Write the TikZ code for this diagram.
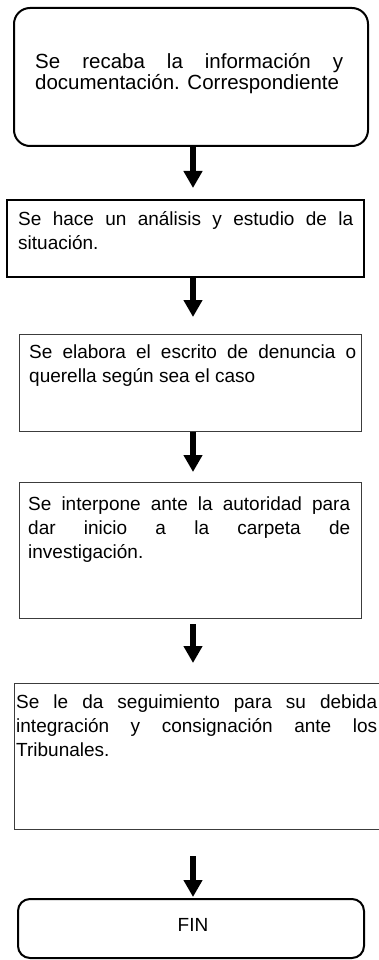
\documentclass[tikz,border=0pt]{standalone}
\usepackage{fontspec}
\setmainfont{Liberation Sans}
\usepackage{xcolor}
\usepackage{tikz}
\usetikzlibrary{arrows.meta}
\newcommand{\letra}{\fontsize{19}{24}\selectfont}
\newcommand{\letragrande}{\fontsize{20.5}{21}\selectfont}
\tikzset{caja/.style={draw=grisborde,line width=1.3pt,anchor=north west,inner sep=0pt},
redonda/.style={draw=negro,line width=2pt,rounded corners=16pt,anchor=north west,inner sep=0pt},
texto/.style={anchor=base west,inner sep=0pt,align=justify,font=\letra},
flecha/.style={-{Triangle[length=17pt,width=18pt]},line width=5.5pt,negro}}
\definecolor{negro}{HTML}{000000}
\definecolor{grisborde}{HTML}{3C3C3C}
\hyphenpenalty=10000
\tolerance=10000
\hbadness=10000

\begin{document}
\begin{tikzpicture}[x=1pt,y=-1pt]
\useasboundingbox (0,0) rectangle (379,960);
\coordinate (eje) at (193,0);
\node[redonda,minimum width=354pt,minimum height=138pt] (recaba) at (13,7) {};
\node[texto,text width=308pt,font=\letragrande] (trecaba) at (35,69) {Se recaba la información y\linebreak documentación. Correspondiente};
\node[caja,draw=negro,line width=1.5pt,minimum width=357pt,minimum height=77pt] (analisis) at (6,199) {};
\node[texto,text width=335pt] (tanalisis) at (18,225) {Se hace un análisis y estudio de la\linebreak situación.};
\node[caja,minimum width=342pt,minimum height=97pt] (escrito) at (19,334) {};
\node[texto,text width=327pt] (tescrito) at (29,358) {Se elabora el escrito de denuncia o\linebreak querella según sea el caso};
\node[caja,minimum width=342pt,minimum height=136pt] (interpone) at (19,482) {};
\node[texto,text width=322pt] (tinterpone) at (28,510) {Se interpone ante la autoridad para\linebreak dar inicio a la carpeta de\linebreak investigación.};
\node[caja,minimum width=390pt,minimum height=146pt] (seguimiento) at (14,683) {};
\node[texto,text width=361pt] (tseguimiento) at (16,708) {Se le da seguimiento para su debida\linebreak integración y consignación ante los\linebreak Tribunales.};
\node[redonda,rounded corners=12pt,minimum width=346pt,minimum height=59pt] (fin) at (17,898) {};
\node[font=\letra,inner sep=0pt] (tfin) at (193,925) {FIN};
\draw[flecha,shorten >=11pt] (recaba.south -| eje) -- (analisis.north -| eje);
\draw[flecha,shorten >=17pt] (analisis.south -| eje) -- (escrito.north -| eje);
\draw[flecha,shorten >=10pt] (escrito.south -| eje) -- (interpone.north -| eje);
\draw[flecha,shorten <=5pt,shorten >=20pt] (interpone.south -| eje) -- (seguimiento.north -| eje);
\draw[flecha,shorten <=26pt,shorten >=1pt] (seguimiento.south -| eje) -- (fin.north -| eje);
\end{tikzpicture}
\end{document}
